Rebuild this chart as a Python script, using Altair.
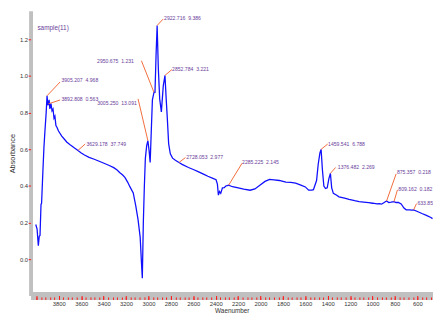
import altair as alt
import pandas as pd

# Spectrum (wavenumber, absorbance)
wavenumber = [4006, 3994, 3983, 3975, 3968, 3959, 3954, 3942, 3933, 3924, 3913, 3905.2, 3898, 3892.8,
              3887, 3880, 3870, 3861, 3852, 3843, 3835, 3826, 3817, 3803, 3774, 3750, 3730, 3700, 3687,
              3660, 3629.2, 3600, 3571, 3530, 3484, 3440, 3397, 3350, 3310, 3280, 3258, 3230, 3209, 3185,
              3165, 3136, 3113, 3093, 3074, 3063, 3055, 3046, 3037, 3028, 3016, 3005.25, 2994, 2985, 2975,
              2965, 2950.7, 2942, 2932, 2922.7, 2912, 2900, 2885, 2868, 2852.8, 2842, 2832, 2820, 2805,
              2785, 2760, 2728, 2700, 2643, 2600, 2557, 2500, 2470, 2430, 2397, 2385, 2376, 2366, 2355,
              2340, 2324, 2310, 2285.2, 2250, 2209, 2150, 2093, 2050, 2006, 1960, 1919, 1880, 1832, 1800,
              1774, 1730, 1687, 1640, 1600, 1571, 1542, 1528, 1500, 1485, 1470, 1459.5, 1448, 1435, 1420,
              1405, 1390, 1376.5, 1365, 1350, 1320, 1300, 1250, 1210, 1160, 1120, 1080, 1035, 1000, 960,
              940, 920, 900, 875.4, 855, 835, 809.2, 790, 770, 745, 720, 700, 670, 650, 633.9, 600, 560,
              520, 480, 465]
absorbance = [0.19, 0.165, 0.075, 0.125, 0.13, 0.30, 0.306, 0.485, 0.61, 0.70, 0.80, 0.892, 0.84, 0.848,
              0.87, 0.82, 0.85, 0.81, 0.82, 0.77, 0.78, 0.73, 0.72, 0.70, 0.672, 0.655, 0.64, 0.625, 0.62,
              0.607, 0.594, 0.58, 0.569, 0.556, 0.546, 0.535, 0.524, 0.512, 0.50, 0.487, 0.474, 0.46, 0.446, 0.42,
              0.395, 0.362, 0.29, 0.217, 0.12, -0.014, -0.103, 0.2, 0.395, 0.55, 0.62, 0.647, 0.59, 0.528, 0.70,
              0.87, 0.91, 0.91, 1.12, 1.275, 1.04, 0.875, 0.804, 0.946, 1.003, 0.875, 0.77, 0.63, 0.575,
              0.552, 0.54, 0.528, 0.518, 0.501, 0.49, 0.478, 0.462, 0.453, 0.443, 0.434, 0.41, 0.35, 0.37, 0.36,
              0.39, 0.391, 0.40, 0.404, 0.396, 0.391, 0.383, 0.377, 0.384, 0.404, 0.425, 0.436, 0.434, 0.43, 0.425,
              0.421, 0.42, 0.416, 0.405, 0.395, 0.377, 0.377, 0.38, 0.43, 0.52, 0.58, 0.60, 0.49, 0.40, 0.386,
              0.39, 0.44, 0.469, 0.39, 0.36, 0.35, 0.341, 0.334, 0.327, 0.32, 0.315, 0.312, 0.309, 0.306, 0.302,
              0.304, 0.301, 0.309, 0.318, 0.31, 0.312, 0.315, 0.31, 0.31, 0.302, 0.28, 0.27, 0.27, 0.268, 0.27,
              0.261, 0.25, 0.24, 0.228, 0.222]

# Peak annotations (label text, picked point, leader end, text anchor)
G = " \u00a0"
ann_labels = ["3905.207" + G + "4.968", "3892.808" + G + "0.563", "3629.178" + G + "37.749",
              "3005.250" + G + "13.091", "2950.675" + G + "1.231", "2922.716" + G + "9.386",
              "2852.784" + G + "3.221", "2728.053" + G + "2.977", "2285.225" + G + "2.145",
              "1459.541" + G + "6.788", "1376.482" + G + "2.269", "875.357" + G + "0.218",
              "809.162" + G + "0.182", "633.85"]
ann_wn = [3905.207, 3892.808, 3629.178, 3005.250, 2950.675, 2922.716, 2852.784, 2728.053,
          2285.225, 1459.541, 1376.482, 875.357, 809.162, 633.85]
ann_abs = [0.892, 0.848, 0.594, 0.647, 0.91, 1.275, 1.003, 0.528, 0.404, 0.60, 0.469, 0.318, 0.315, 0.27]
lead_wn = [3789, 3789, 3565, 3093, 3063, 2870, 2791, 2670, 2165, 1400, 1330, 790, 778, 608]
lead_abs = [0.967, 0.869, 0.629, 0.875, 1.083, 1.31, 1.035, 0.555, 0.524, 0.629, 0.501, 0.466, 0.379, 0.304]
text_wn = [3777, 3777, 3554, 3104, 3130, 2861, 2789, 2663, 2165, 1397, 1310, 783, 770, 600]
text_abs = [0.976, 0.875, 0.631, 0.855, 1.083, 1.314, 1.04, 0.56, 0.532, 0.629, 0.501, 0.475, 0.386, 0.306]
text_side = ["left", "left", "left", "right", "right", "left", "left", "left", "left", "left",
             "left", "left", "left", "left"]

sample_label = ["sample(11)"]
sample_wn = [3991]
sample_abs = [1.26]

major_ticks = list(range(600, 4001, 200))
minor_ticks = list(range(480, 4001, 40))
y_ticks = [0.0, 0.2, 0.4, 0.6, 0.8, 1.0, 1.2]

FONT = "Liberation Sans, Arial, sans-serif"
PURPLE = "#6a3d9a"
ORANGE = "#f26b3a"
RED = "#ff1a1a"
GRAY = "#c0c0c0"
INK = "#333333"

spec = pd.DataFrame({"wn": wavenumber, "abs": absorbance})
ann = pd.DataFrame({"wn": ann_wn, "abs": ann_abs, "lwn": lead_wn, "labs": lead_abs,
                    "twn": text_wn, "tabs": text_abs, "label": ann_labels, "side": text_side})
samp = pd.DataFrame({"wn": sample_wn, "abs": sample_abs, "label": sample_label})

xscale = alt.Scale(domain=[460.9, 4052.2], reverse=True, nice=False, zero=False)
yscale = alt.Scale(domain=[-0.197, 1.355], nice=False, zero=False)

# gray frame bands (axis domains only)
x_band = alt.Axis(orient="bottom", domain=True, domainColor=GRAY, domainWidth=8, ticks=False,
                  labels=False, grid=False, title=None, zindex=0)
y_band = alt.Axis(orient="left", domain=True, domainColor=GRAY, domainWidth=4, ticks=False,
                  values=y_ticks, format=".1f", grid=False, title="Absorbance",
                  labelFont=FONT, labelFontSize=6, labelColor=INK, labelPadding=3,
                  titleFont=FONT, titleFontSize=7.5, titleFontWeight="normal", titleColor=INK,
                  titlePadding=3, zindex=0)
# red ticks on top of the bands
x_major = alt.Axis(orient="bottom", domain=False, values=major_ticks, format="d",
                   labelExpr="datum.value < 4000 ? datum.label : ''", labelOverlap=False,
                   labelFlush=False, tickColor=RED, tickSize=4, tickWidth=1, grid=False,
                   labelFont=FONT, labelFontSize=6, labelColor=INK, labelPadding=1,
                   title="Waenumber", titleFont=FONT, titleFontSize=6.5, titleFontWeight="normal",
                   titleColor=INK, titlePadding=1, zindex=2)
x_minor = alt.Axis(orient="bottom", domain=False, values=minor_ticks, labels=False,
                   tickColor=RED, tickSize=2.5, tickWidth=1, grid=False, title=None, offset=1.5,
                   zindex=2)
y_tick = alt.Axis(orient="left", domain=False, values=y_ticks, labels=False, tickColor=RED,
                  tickSize=2.5, tickWidth=1, grid=False, title=None, zindex=2)

line = alt.Chart(spec).mark_line(color="#1010ff", strokeWidth=1.3, clip=True).encode(
    x=alt.X("wn:Q", scale=xscale, axis=x_band),
    y=alt.Y("abs:Q", scale=yscale, axis=y_band),
    order="wn:Q",
)

leaders = alt.Chart(ann).mark_rule(color=ORANGE, strokeWidth=1).encode(
    x=alt.X("wn:Q", scale=xscale, axis=x_major),
    y=alt.Y("abs:Q", scale=yscale, axis=y_tick),
    x2="lwn:Q", y2="labs:Q")

labels_left = alt.Chart(ann).transform_filter("datum.side === 'left'").mark_text(
    align="left", baseline="middle", font=FONT, fontSize=5.2, color=PURPLE, clip=True
).encode(x=alt.X("twn:Q", scale=xscale, axis=x_minor),
         y=alt.Y("tabs:Q", scale=yscale, axis=None), text="label:N")

labels_right = alt.Chart(ann).transform_filter("datum.side === 'right'").mark_text(
    align="right", baseline="middle", font=FONT, fontSize=5.2, color=PURPLE, clip=True
).encode(x=alt.X("twn:Q", scale=xscale, axis=None),
         y=alt.Y("tabs:Q", scale=yscale, axis=None), text="label:N")

sample = alt.Chart(samp).mark_text(
    align="left", baseline="middle", font=FONT, fontSize=6.5, color=PURPLE
).encode(x=alt.X("wn:Q", scale=xscale, axis=None),
         y=alt.Y("abs:Q", scale=yscale, axis=None), text="label:N")

chart = alt.layer(line, leaders, labels_left, labels_right, sample).resolve_axis(
    x="independent", y="independent"
).properties(
    width=433, height=309,
    autosize=alt.AutoSizeParams(type="fit", contains="padding"),
    padding={"left": 0, "top": 0, "right": 0, "bottom": 0},
    background="white"
).configure_view(strokeWidth=0)

chart.save("out.html", embed_options={"renderer": "svg", "actions": False})
